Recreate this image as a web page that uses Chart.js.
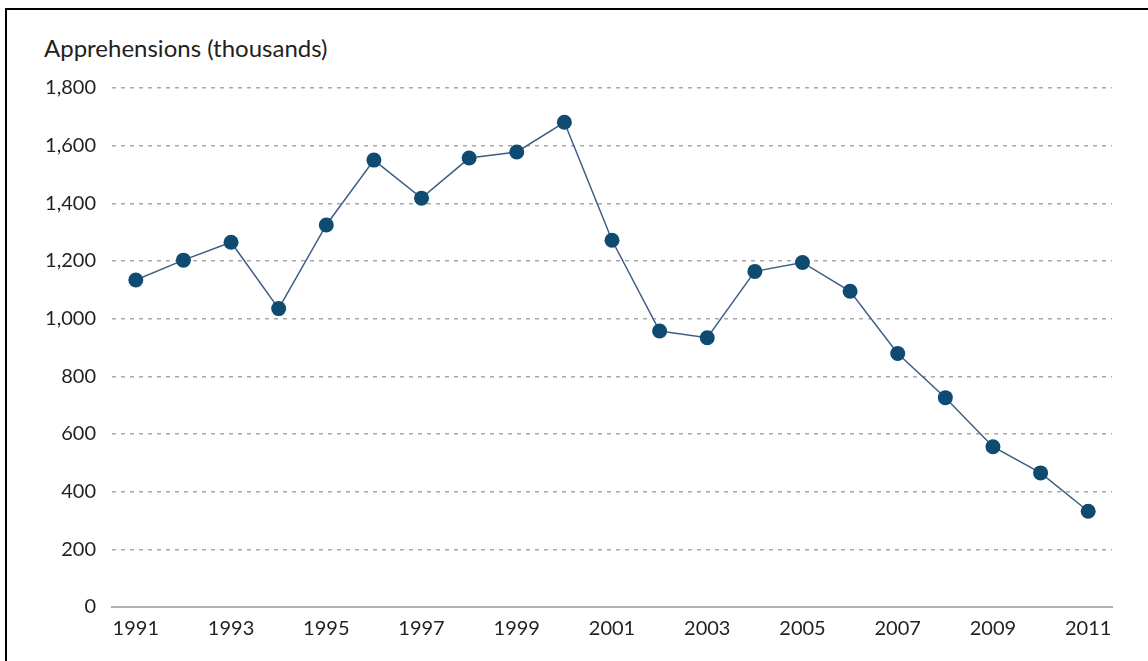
<!DOCTYPE html>
<html>
<head>
<meta charset="utf-8">
<script src="https://cdn.jsdelivr.net/npm/chart.js@4"></script>
<style>
    html, body { margin: 0; padding: 0; background: #fff; }
    #wrap { position: relative; width: 1148px; height: 661px; overflow: hidden; }
    #frame { position: absolute; left: 5px; top: 8px; width: 1200px; height: 700px; border-left: 2px solid #000; border-top: 2px solid #000; box-sizing: border-box; }
    #ytitle { position: absolute; left: 44px; top: 33px; font-family: Lato, sans-serif; font-size: 24px; color: #231f20; }
    canvas { position: absolute; left: 0; top: 0; }
</style>
</head>
<body>
<div id="wrap">
    <div id="frame"></div>
    <div id="ytitle">Apprehensions (thousands)</div>
    <canvas id="chart" width="1148" height="661"></canvas>
</div>
<script>
// Apprehensions by year, thousands
const years = ['1991', '1992', '1993', '1994', '1995', '1996', '1997', '1998', '1999', '2000',
    '2001', '2002', '2003', '2004', '2005', '2006', '2007', '2008', '2009', '2010', '2011'];
const apprehensions = [1134, 1203, 1265, 1035, 1325, 1550, 1418, 1557, 1578, 1681,
    1272, 957, 934, 1164, 1195, 1095, 879, 726, 556, 465, 332];
const yTicks = [0, 200, 400, 600, 800, 1000, 1200, 1400, 1600, 1800];

const fontFamily = 'Lato, sans-serif';
const textColor = '#231f20';

const ctx = document.getElementById('chart').getContext('2d');
new Chart(ctx, {
    type: 'line',
    data: {
        labels: years,
        datasets: [{
            data: apprehensions,
            borderColor: '#3d5f86',
            borderWidth: 1.5,
            pointBackgroundColor: '#0f4a70',
            pointBorderColor: '#0f4a70',
            pointRadius: 7.5,
            pointBorderWidth: 0,
            tension: 0
        }]
    },
    options: {
        responsive: false,
        animation: false,
        layout: { padding: { left: 0, right: 36, top: 88, bottom: 0 } },
        plugins: {
            legend: { display: false },
            tooltip: { enabled: false }
        },
        scales: {
            x: {
                offset: true,
                grid: { display: false, drawTicks: false },
                border: { display: true, color: '#b0b0b0', width: 2 },
                ticks: {
                    autoSkip: false,
                    maxRotation: 0,
                    padding: 10,
                    color: textColor,
                    font: { family: fontFamily, size: 20 },
                    callback: function(value, index) {
                        return index % 2 === 0 ? years[index] : '';
                    }
                },
                afterFit: function(scale) { scale.height = 54; }
            },
            y: {
                min: 0,
                max: 1800,
                afterBuildTicks: function(scale) {
                    scale.ticks = yTicks.map(v => ({ value: v }));
                },
                grid: {
                    drawTicks: false,
                    lineWidth: 1.5,
                    color: function(c) {
                        return c.tick && c.tick.value === 0 ? 'rgba(0,0,0,0)' : '#a8a8a8';
                    }
                },
                border: { display: false, dash: [4, 5] },
                ticks: {
                    padding: 16,
                    color: textColor,
                    font: { family: fontFamily, size: 20 },
                    callback: function(value) { return value.toLocaleString('en-US'); }
                },
                afterFit: function(scale) { scale.width = 112; }
            }
        }
    }
});
</script>
</body>
</html>
